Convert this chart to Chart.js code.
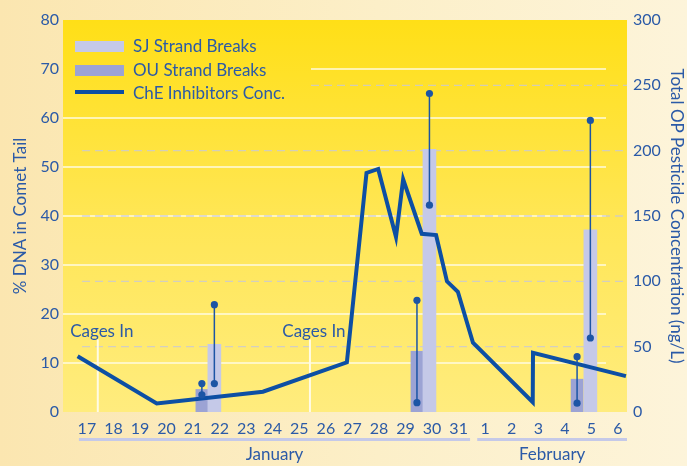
<!DOCTYPE html>
<html>
<head>
<meta charset="utf-8">
<script src="https://cdn.jsdelivr.net/npm/chart.js@4.4.1/dist/chart.umd.min.js"></script>
<style>
  html, body { margin: 0; padding: 0; }
  body {
    width: 687px; height: 466px; overflow: hidden;
    background: linear-gradient(90deg, #fbe6b0 0%, #fcefc8 55%, #fdf4da 100%);
  }
  #wrap { position: relative; width: 687px; height: 466px; }
</style>
</head>
<body>
<div id="wrap"><canvas id="chart"></canvas></div>
<script>
// x positions are day indices: 0 = Jan 17 ... 20 = Feb 6
const dayLabels = ['17','18','19','20','21','22','23','24','25','26','27','28','29','30','31','1','2','3','4','5','6'];
const months = ['January', 'February'];
const monthFirst = [0, 15];
const monthLast = [14, 20];

// ChE inhibitors concentration (ng/L, right axis)
const cheX = [-0.35, 2.63, 6.63, 9.79, 10.53, 10.97, 11.64, 11.91, 12.61, 13.15, 13.56, 13.97, 14.54, 16.79, 16.80, 20.30];
const cheConc = [42.7, 6.6, 15.5, 38, 183, 186, 134, 178, 136.4, 135.4, 100, 92, 53, 7.5, 45.3, 27.5];

// strand breaks (% DNA in comet tail, left axis)
const sjX = [4.80, 12.90, 18.96];
const sjBreaks = [13.8, 53.6, 37.2];
const sjLow = [5.8, 42.2, 15.1];
const sjHigh = [21.9, 65.0, 59.5];

const ouX = [4.33, 12.43, 18.46];
const ouBreaks = [4.6, 12.4, 6.7];
const ouLow = [3.5, 1.9, 1.8];
const ouHigh = [5.8, 22.8, 11.3];

const cagesIn = [0.41, 8.4];

const blue = '#2b5aa7';
const lineBlue = '#0d4fa4';
const sjColor = '#c5c9e8';
const ouColor = '#9ca3d4';
const fontFam = 'Lato, "Open Sans", sans-serif';

// error bars as one line dataset, gaps between each bar
const errPoints = [];
[[sjX, sjLow, sjHigh], [ouX, ouLow, ouHigh]].forEach(([xs, lo, hi]) => {
    xs.forEach((x, i) => {
        errPoints.push({ x: x, y: lo[i] }, { x: x, y: hi[i] }, { x: x, y: null });
    });
});

const decor = {
    id: 'decor',
    beforeDatasetsDraw(chart) {
        const { ctx, chartArea: a, scales } = chart;
        const yL = scales.yDna, yR = scales.yConc, x = scales.x;
        const legendRight = a.left + 248;
        ctx.save();

        // plot background
        const g = ctx.createLinearGradient(0, a.top, 0, a.bottom);
        g.addColorStop(0, '#ffdf17');
        g.addColorStop(0.5, '#ffe654');
        g.addColorStop(1, '#ffec7e');
        ctx.fillStyle = g;
        ctx.fillRect(a.left, a.top, a.right - a.left, a.bottom - a.top);

        // white solid grid (left axis)
        ctx.strokeStyle = 'rgba(255,252,232,0.95)';
        ctx.lineWidth = 1.6;
        yL.ticks.forEach(t => {
            if (t.value <= 0 || t.value >= 80) return;
            const y = yL.getPixelForValue(t.value);
            const x0 = (y > a.top + 8 && y < a.top + 82) ? legendRight : a.left;
            ctx.beginPath();
            ctx.moveTo(x0, y);
            ctx.lineTo(a.right - 21, y);
            ctx.stroke();
        });

        // dashed grid (right axis)
        ctx.strokeStyle = 'rgba(200,200,214,0.8)';
        ctx.lineWidth = 1.4;
        ctx.setLineDash([8, 5]);
        yR.ticks.forEach(t => {
            if (t.value <= 0 || t.value >= 300) return;
            const y = yR.getPixelForValue(t.value);
            const x0 = (y > a.top + 8 && y < a.top + 82) ? legendRight : a.left + 19;
            ctx.beginPath();
            ctx.moveTo(x0, y);
            ctx.lineTo(a.right, y);
            ctx.stroke();
        });
        ctx.setLineDash([]);

        // cages in markers
        ctx.strokeStyle = '#fffbe6';
        ctx.lineWidth = 2;
        cagesIn.forEach(d => {
            const px = x.getPixelForValue(d);
            ctx.beginPath();
            ctx.moveTo(px, yL.getPixelForValue(0));
            ctx.lineTo(px, yL.getPixelForValue(14.8));
            ctx.stroke();
        });
        ctx.restore();
    },
    afterDatasetsDraw(chart) {
        const { ctx, chartArea: a, scales } = chart;
        const yL = scales.yDna, x = scales.x;
        ctx.save();
        ctx.fillStyle = blue;
        ctx.font = '17px ' + fontFam;
        ctx.textBaseline = 'middle';

        // cages in labels
        ctx.textAlign = 'center';
        cagesIn.forEach(d => {
            ctx.fillText('Cages In', x.getPixelForValue(d) + 4, yL.getPixelForValue(14.8) - 8);
        });

        // legend
        ctx.textAlign = 'left';
        const lx = a.left + 12;
        const rows = [a.top + 27, a.top + 51, a.top + 74];
        ctx.fillStyle = sjColor;
        ctx.fillRect(lx, rows[0] - 6, 49, 11);
        ctx.fillStyle = ouColor;
        ctx.fillRect(lx, rows[1] - 6, 49, 11);
        ctx.fillStyle = lineBlue;
        ctx.fillRect(lx, rows[2] - 4, 49, 4);
        ctx.fillStyle = blue;
        ctx.fillText('SJ Strand Breaks', lx + 58, rows[0]);
        ctx.fillText('OU Strand Breaks', lx + 58, rows[1]);
        ctx.fillText('ChE Inhibitors Conc.', lx + 58, rows[2]);

        // months with underlines
        months.forEach((m, i) => {
            const x0 = x.getPixelForValue(monthFirst[i] - 0.3);
            const x1 = Math.min(x.getPixelForValue(monthLast[i] + 0.43), a.right);
            ctx.fillStyle = sjColor;
            ctx.fillRect(x0, a.bottom + 26, x1 - x0, 3);
            ctx.fillStyle = blue;
            ctx.textAlign = 'center';
            ctx.fillText(m, (x0 + x1) / 2, a.bottom + 43);
        });
        ctx.restore();
    }
};

const ctx = document.getElementById('chart').getContext('2d');
new Chart(ctx, {
    data: {
        datasets: [
            {
                type: 'line',
                label: 'error',
                data: errPoints,
                yAxisID: 'yDna',
                borderColor: '#1c55a5',
                borderWidth: 1.5,
                pointRadius: 3.6,
                pointBackgroundColor: '#1c55a5',
                pointBorderWidth: 0,
                spanGaps: false,
                order: 0
            },
            {
                type: 'line',
                label: 'ChE Inhibitors Conc.',
                data: cheX.map((v, i) => ({ x: v, y: cheConc[i] })),
                yAxisID: 'yConc',
                borderColor: lineBlue,
                borderWidth: 4,
                borderJoinStyle: 'miter',
                pointRadius: 0,
                tension: 0,
                order: 1
            },
            {
                type: 'bar',
                label: 'SJ Strand Breaks',
                data: sjX.map((v, i) => ({ x: v, y: sjBreaks[i] })),
                yAxisID: 'yDna',
                backgroundColor: sjColor,
                barThickness: 13,
                grouped: false,
                order: 2
            },
            {
                type: 'bar',
                label: 'OU Strand Breaks',
                data: ouX.map((v, i) => ({ x: v, y: ouBreaks[i] })),
                yAxisID: 'yDna',
                backgroundColor: ouColor,
                barThickness: 12,
                grouped: false,
                order: 2
            }
        ]
    },
    options: {
        responsive: true,
        maintainAspectRatio: false,
        animation: false,
        layout: { padding: { top: 20 } },
        plugins: {
            legend: { display: false },
            tooltip: { enabled: false }
        },
        scales: {
            x: {
                type: 'linear',
                offset: false,
                min: -0.9,
                max: 20.34,
                afterBuildTicks: s => { s.ticks = dayLabels.map((d, i) => ({ value: i })); },
                afterFit: s => {
                    s.height = 54;
                    s.paddingLeft = 0;
                    s.paddingRight = 0;
                },
                ticks: {
                    callback: (v, i) => dayLabels[i],
                    color: blue,
                    font: { family: fontFam, size: 16 },
                    padding: 7,
                    autoSkip: false,
                    maxRotation: 0
                },
                grid: { display: false, drawTicks: false, offset: false },
                border: { display: false }
            },
            yDna: {
                position: 'left',
                min: 0,
                max: 80,
                afterFit: s => { s.width = 63; },
                ticks: {
                    stepSize: 10,
                    color: blue,
                    font: { family: fontFam, size: 16 },
                    padding: 4
                },
                grid: { display: false, drawTicks: false },
                border: { display: false },
                title: {
                    display: true,
                    text: '% DNA in Comet Tail',
                    color: blue,
                    font: { family: fontFam, size: 17 },
                    padding: { top: 10, bottom: 0 }
                }
            },
            yConc: {
                position: 'right',
                min: 0,
                max: 300,
                afterFit: s => { s.width = 60; },
                ticks: {
                    stepSize: 50,
                    color: blue,
                    font: { family: fontFam, size: 16 },
                    padding: 6
                },
                grid: { display: false, drawTicks: false },
                border: { display: false },
                title: {
                    display: true,
                    text: 'Total OP Pesticide Concentration (ng/L)',
                    color: blue,
                    font: { family: fontFam, size: 17 },
                    padding: { top: 0, bottom: 0 }
                }
            }
        }
    },
    plugins: [decor]
});
</script>
</body>
</html>
